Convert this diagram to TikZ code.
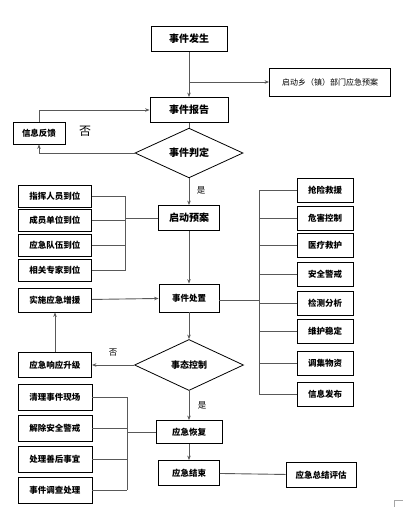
\documentclass[tikz,border=0pt]{standalone}
\usepackage{fontspec}
\newfontfamily\cjk{Noto Sans CJK SC}
\usetikzlibrary{arrows.meta, shapes.geometric}

\tikzset{
  box/.style={draw, line width=0.8pt, inner sep=0pt, font=\cjk\bfseries\fontsize{8.5}{8.5}\selectfont},
  bigbox/.style={box, font=\cjk\bfseries\fontsize{10}{10}\selectfont},
  judge/.style={draw, diamond, inner sep=0pt, line width=0.8pt, font=\cjk\bfseries\fontsize{10}{10}\selectfont},
  link/.style={line width=0.9pt, draw=black!65},
  arr/.style={link, -{Stealth[length=4.5pt, width=3.5pt]}},
  lbl/.style={font=\cjk\fontsize{8.5}{8.5}\selectfont}
}

\begin{document}
\begin{tikzpicture}[x=1pt, y=-1pt]
  \useasboundingbox (0,0) rectangle (403,507);
  \def\mx{189}

  \node[bigbox, minimum width=76pt, minimum height=25pt] (occur) at (\mx,39) {事件发生};
  \node[box, minimum width=121pt, minimum height=28pt, font=\cjk\fontsize{8}{8}\selectfont] (plan) at (330,82) {启动乡（镇）部门应急预案};
  \node[bigbox, minimum width=78pt, minimum height=25pt] (report) at (\mx,110) {事件报告};
  \node[box, minimum width=52pt, minimum height=22pt] (feedback) at (39,133) {信息反馈};
  \node[judge, minimum width=108pt, minimum height=40pt] (judge1) at (\mx,153) {事件判定};
  \node[bigbox, minimum width=61pt, minimum height=25pt] (start) at (\mx,218) {启动预案};
  \node[box, minimum width=60pt, minimum height=28pt] (handle) at (\mx,298) {事件处置};
  \node[box, minimum width=73pt, minimum height=24pt] (support) at (55,300) {实施应急增援};
  \node[judge, minimum width=109pt, minimum height=51pt, font=\cjk\bfseries\fontsize{9}{9}\selectfont] (judge2) at (\mx,365) {事态控制};
  \node[box, minimum width=73pt, minimum height=25pt] (upgrade) at (55,365) {应急响应升级};
  \node[box, minimum width=66pt, minimum height=23pt] (recover) at (\mx,432) {应急恢复};
  \node[box, minimum width=61pt, minimum height=25pt] (finish) at (\mx,473) {应急结束};
  \node[box, minimum width=70pt, minimum height=25pt] (assess) at (321,475) {应急总结评估};

  \foreach \t/\y [count=\i] in {指挥人员到位/196, 成员单位到位/220, 应急队伍到位/245.5, 相关专家到位/270.5} {
    \node[box, minimum width=73pt, minimum height=22pt] (l\i) at (55,\y) {\t};
  }
  \foreach \t/\y [count=\i] in {抢险救援/190, 危害控制/218, 医疗救护/245, 安全警戒/274, 检测分析/303, 维护稳定/331, 调集物资/363, 信息发布/394} {
    \node[box, minimum width=56pt, minimum height=24pt] (r\i) at (325,\y) {\t};
  }
  \foreach \t/\y [count=\i] in {清理事件现场/397, 解除安全警戒/428, 处理善后事宜/459, 事件调查处理/490} {
    \node[box, minimum width=74pt, minimum height=26pt] (b\i) at (55,\y) {\t};
  }

  \coordinate (fork) at (\mx,82);
  \coordinate (lbus) at (125,218);
  \coordinate (rbus) at (259,300);
  \coordinate (bbus) at (127,432);

  \draw[arr] (occur) -- (report);
  \draw[arr] (fork) -- (plan.west);
  \draw[link] (report) -- (judge1);
  \draw[arr] (judge1.west) -| (feedback.south);
  \draw[arr] (feedback.north) |- (report.west);
  \node[lbl, font=\cjk\fontsize{12}{12}\selectfont] (no1) at (85,131) {否};
  \draw[arr] (judge1.south) -- (start.north);
  \node[lbl] (yes1) at (201,190) {是};

  \foreach \i in {1,...,4} {
    \draw[link] (l\i.east) -- (l\i.east -| lbus);
  }
  \draw[link] (l1.east -| lbus) -- (l4.east -| lbus);
  \draw[link] (lbus) -- (start.west);

  \draw[arr] (start) -- (handle);
  \draw[arr] (support) -- (handle);
  \draw[link] (handle.east |- rbus) -- (rbus);
  \foreach \i in {1,...,8} {
    \draw[link] (rbus |- r\i.west) -- (r\i.west);
  }
  \draw[link] (rbus |- r1.west) -- (rbus |- r8.west);

  \draw[arr] (handle) -- (judge2);
  \draw[arr] (judge2.west) -- (upgrade.east);
  \node[lbl] (no2) at (113,353) {否};
  \draw[arr] (upgrade) -- (support);
  \draw[arr] (judge2.south) -- (recover.north);
  \node[lbl] (yes2) at (202,405) {是};
  \draw[arr] (recover) -- (finish);
  \draw[link] (finish) -- (assess);

  \foreach \i in {1,...,4} {
    \draw[link] (b\i.east) -- (b\i.east -| bbus);
  }
  \draw[link] (b1.east -| bbus) -- (b4.east -| bbus);
  \draw[link] (bbus) -- (recover.west);

  \draw[black!35, line width=0.5pt] (394,507) -- (394,500) -- (403,500);
\end{tikzpicture}
\end{document}
